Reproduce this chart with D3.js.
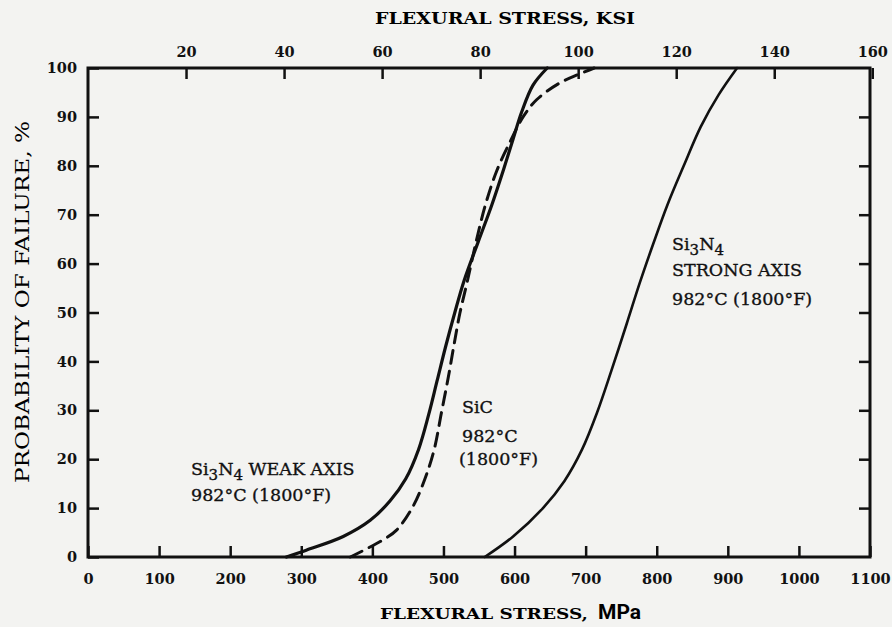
<!DOCTYPE html>
<html>
<head>
<style>
body { margin: 0; background: #f3f3f1; }
#chart { display: block; }
.tick-label { font-family: "DejaVu Serif", serif; font-weight: bold; font-size: 14.5px; fill: #111; }
.note { font-family: "DejaVu Serif", serif; font-size: 17.5px; fill: #111; stroke: #111; stroke-width: 0.35px; }
</style>
</head>
<body>
<svg id="chart" width="892" height="627"></svg>
<script src="https://d3js.org/d3.v7.min.js"></script>
<script>
// stress (MPa), with probability of failure (%)
const weakStress = [279, 307, 359, 397, 425, 447, 465, 479, 491, 503, 516, 529, 549, 568, 584, 598, 610, 626, 646];
const weakProb   = [0, 1.4, 4.2, 7.5, 11.5, 16, 22, 29, 36, 43, 50, 56.5, 64.5, 72, 79, 85.5, 91, 96.5, 100];

const sicStress = [369, 415, 434, 457, 474, 487, 497, 507, 515, 523, 533, 546, 559, 575, 594, 612, 631, 662, 690, 712];
const sicProb   = [0, 3.5, 5.5, 10.3, 16, 22, 29.4, 36.9, 43.5, 49.8, 56, 64.5, 72, 79, 85, 90, 93.5, 96.8, 98.7, 100];

const strongStress = [558, 598, 640, 670, 695, 716, 736, 758, 776, 795, 815, 838, 862, 887, 913];
const strongProb   = [0, 4.2, 10, 15.5, 22, 29.5, 38, 47.8, 56, 64, 72, 80, 88, 94.5, 100];

const mpaTicks = [0, 100, 200, 300, 400, 500, 600, 700, 800, 900, 1000, 1100];
const ksiTicks = [20, 40, 60, 80, 100, 120, 140, 160];
const probTicks = [0, 10, 20, 30, 40, 50, 60, 70, 80, 90, 100];
const KSI_TO_MPA = 6.895;

const svg = d3.select("#chart");
const mLeft = 88, mRight = 870, mTop = 68, mBottom = 557;

const x = d3.scaleLinear().domain([0, 1100]).range([mLeft, mRight]);
const xk = d3.scaleLinear().domain([0, 1100 / KSI_TO_MPA]).range([mLeft, mRight]);
const y = d3.scaleLinear().domain([0, 100]).range([mBottom, mTop]);

// frame
svg.append("rect")
    .attr("x", mLeft).attr("y", mTop)
    .attr("width", mRight - mLeft).attr("height", mBottom - mTop)
    .style("fill", "none").style("stroke", "#111").style("stroke-width", 3);

// bottom axis (MPa), ticks pointing in
const xAxis = d3.axisBottom(x).tickValues(mpaTicks).tickSize(-11).tickPadding(20).tickFormat(d3.format("d"));
const gx = svg.append("g").attr("transform", `translate(0,${mBottom})`).call(xAxis);

// top axis (ksi)
const xkAxis = d3.axisTop(xk).tickValues(ksiTicks).tickSize(-11).tickPadding(11);
const gk = svg.append("g").attr("transform", `translate(0,${mTop})`).call(xkAxis);

// left and right axes (%)
const yAxis = d3.axisLeft(y).tickValues(probTicks).tickSize(-11).tickPadding(11);
const gy = svg.append("g").attr("transform", `translate(${mLeft},0)`).call(yAxis);
const yAxisR = d3.axisRight(y).tickValues(probTicks.slice(1, -1)).tickSize(-11).tickFormat("");
const gyr = svg.append("g").attr("transform", `translate(${mRight},0)`).call(yAxisR);

[gx, gk, gy, gyr].forEach(g => {
    g.select(".domain").remove();
    g.selectAll(".tick line").style("stroke", "#111").style("stroke-width", 2.5);
    g.selectAll("text").attr("class", "tick-label");
});
gx.selectAll("text").attr("dy", "0.5em");
gk.selectAll("text").attr("dy", "0");

// axis titles
svg.append("text")
    .attr("x", 505).attr("y", 24)
    .attr("text-anchor", "middle")
    .attr("textLength", 260).attr("lengthAdjust", "spacingAndGlyphs")
    .style("font-family", "DejaVu Serif, serif").style("font-weight", "bold").style("font-size", "16px")
    .text("FLEXURAL STRESS, KSI");

const bt = svg.append("text")
    .attr("x", 380).attr("y", 619)
    .style("font-family", "DejaVu Serif, serif").style("font-weight", "bold").style("font-size", "15px");
bt.append("tspan").attr("textLength", 208).attr("lengthAdjust", "spacingAndGlyphs").text("FLEXURAL STRESS,");
bt.append("tspan")
    .style("font-family", "Liberation Sans Narrow, Roboto, sans-serif")
    .style("font-size", "21px")
    .attr("dx", 10)
    .text("MPa");

svg.append("text")
    .attr("transform", "translate(29,302) rotate(-90)")
    .attr("text-anchor", "middle")
    .attr("textLength", 362).attr("lengthAdjust", "spacingAndGlyphs")
    .style("font-family", "DejaVu Serif, serif").style("font-size", "18px")
    .text("PROBABILITY OF FAILURE, %");

// curves
const line = d3.line()
    .x(d => x(d[0]))
    .y(d => y(d[1]))
    .curve(d3.curveCatmullRom.alpha(0.5));

function curve(stress, prob, dash, width) {
    svg.append("path")
        .datum(stress.map((s, i) => [s, prob[i]]))
        .attr("d", line)
        .style("fill", "none")
        .style("stroke", "#111")
        .style("stroke-width", width)
        .style("stroke-linecap", "round")
        .style("stroke-dasharray", dash);
}
curve(weakStress, weakProb, null, 3.2);
curve(sicStress, sicProb, "13,8", 3);
curve(strongStress, strongProb, null, 2.6);

// labels
function note(xp, yp, parts) {
    const t = svg.append("text").attr("class", "note").attr("x", xp).attr("y", yp);
    parts.forEach(p => {
        const s = t.append("tspan").text(p[0]);
        if (p[1] === "sub") s.attr("baseline-shift", "-35%").style("font-size", "15px");
    });
}
note(191, 475, [["Si"], ["3", "sub"], ["N"], ["4", "sub"], [" WEAK AXIS"]]);
note(191, 501, [["982°C (1800°F)"]]);
note(462, 413, [["SiC"]]);
note(462, 442, [["982°C"]]);
note(459, 465, [["(1800°F)"]]);
note(672, 250, [["Si"], ["3", "sub"], ["N"], ["4", "sub"]]);
note(672, 276, [["STRONG AXIS"]]);
note(672, 305, [["982°C (1800°F)"]]);
</script>
</body>
</html>
